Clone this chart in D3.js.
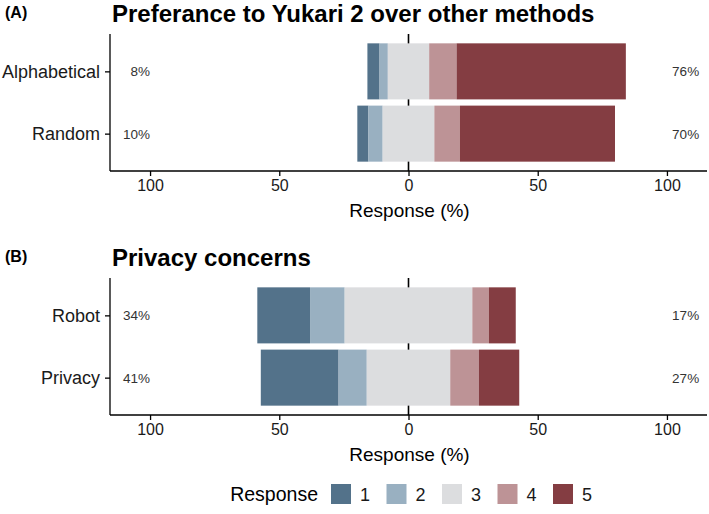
<!DOCTYPE html>
<html>
<head>
<meta charset="utf-8">
<script src="https://cdn.jsdelivr.net/npm/d3@7"></script>
<style>
  body { margin: 0; background: #fff; }
  text { font-family: "Liberation Sans", Arial, Helvetica, sans-serif; }
</style>
</head>
<body>
<div id="chart"></div>
<script>
// response levels and colours
var levels = ["1", "2", "3", "4", "5"];
var levelColors = ["#53728a", "#99b0c1", "#dcdddf", "#bd9396", "#843d42"];

// panel A: preference
var groupsA = ["Alphabetical", "Random"];
var valuesA = [
  [4.7, 3.2, 16.0, 10.6, 65.5],
  [4.3, 5.5, 20.0, 9.9, 60.0]
];

// panel B: privacy
var groupsB = ["Robot", "Privacy"];
var valuesB = [
  [20.4, 13.4, 49.4, 6.4, 10.4],
  [30.1, 10.9, 32.3, 11.1, 15.6]
];

var xTicks = [-100, -50, 0, 50, 100];

var width = 709, height = 514;

var svg = d3.select("#chart")
    .append("svg")
    .attr("width", width)
    .attr("height", height);

var color = d3.scaleOrdinal().domain(levels).range(levelColors);

function drawPanel(tag, title, groups, values, top)
{
    var panel = {left: 110, right: 707, top: top, bottom: top + 137};

    var x = d3.scaleLinear()
        .domain([-115.5, 115.5])
        .range([panel.left, panel.right]);

    // ggplot style discrete scale: 0.6 unit of expansion each side, bar width 0.9
    var y = d3.scalePoint()
        .domain(groups)
        .range([panel.top, panel.bottom])
        .padding(0.6);
    var bh = y.step() * 0.9;

    svg.append("text")
        .attr("x", 5)
        .attr("y", top - 16)
        .style("font-size", "16px")
        .style("font-weight", "bold")
        .text(tag);

    svg.append("text")
        .attr("x", 112)
        .attr("y", top - 12)
        .style("font-size", "24px")
        .style("font-weight", "bold")
        .text(title);

    // zero line under the bars
    svg.append("line")
        .attr("x1", x(0)).attr("x2", x(0))
        .attr("y1", panel.top).attr("y2", panel.bottom)
        .style("stroke", "#000")
        .style("stroke-width", 1.6);

    // build segments: neutral split in halves around 0
    var segs = [];
    values.forEach(function(v, i) {
        var start = -(v[0] + v[1] + v[2] / 2);
        v.forEach(function(val, j) {
            segs.push({group: groups[i], level: levels[j], x0: start, x1: start + val});
            start += val;
        });
    });

    svg.append("g")
        .selectAll("rect")
        .data(segs)
        .enter()
        .append("rect")
        .attr("x", function(d) { return x(d.x0); })
        .attr("width", function(d) { return x(d.x1) - x(d.x0); })
        .attr("y", function(d) { return y(d.group) - bh / 2; })
        .attr("height", bh)
        .style("fill", function(d) { return color(d.level); });

    // percent labels
    svg.append("g")
        .selectAll("text")
        .data(values)
        .enter()
        .append("text")
        .attr("x", x(-100))
        .attr("y", function(d, i) { return y(groups[i]) + 5; })
        .attr("text-anchor", "end")
        .style("font-size", "13.5px")
        .style("fill", "#333")
        .text(function(d) { return Math.round(d[0] + d[1]) + "%"; });

    svg.append("g")
        .selectAll("text")
        .data(values)
        .enter()
        .append("text")
        .attr("x", x(102))
        .attr("y", function(d, i) { return y(groups[i]) + 5; })
        .style("font-size", "13.5px")
        .style("fill", "#333")
        .text(function(d) { return Math.round(d[3] + d[4]) + "%"; });

    // axes
    var xAxis = svg.append("g")
        .attr("transform", "translate(0," + panel.bottom + ")")
        .call(d3.axisBottom(x)
            .tickValues(xTicks)
            .tickSize(5)
            .tickPadding(4)
            .tickFormat(function(d) { return Math.abs(d); }));
    xAxis.select(".domain").attr("d", "M" + panel.left + ",0H" + panel.right)
        .style("stroke", "#000").style("stroke-width", 1.3);
    xAxis.selectAll(".tick line").style("stroke", "#000").style("stroke-width", 1.3);
    xAxis.selectAll(".tick text")
        .style("font-size", "16px")
        .style("fill", "#1a1a1a")
        .style("font-family", "Liberation Sans, Arial, sans-serif");

    var yAxis = svg.append("g")
        .attr("transform", "translate(" + panel.left + ",0)")
        .call(d3.axisLeft(y).tickSize(5).tickPadding(5));
    yAxis.select(".domain").attr("d", "M0," + panel.top + "V" + panel.bottom)
        .style("stroke", "#000").style("stroke-width", 1.3);
    yAxis.selectAll(".tick line").style("stroke", "#000").style("stroke-width", 1.3);
    yAxis.selectAll(".tick text")
        .style("font-size", "18px")
        .style("fill", "#1a1a1a")
        .style("font-family", "Liberation Sans, Arial, sans-serif");

    svg.append("text")
        .attr("x", x(0) + 1)
        .attr("y", panel.bottom + 46)
        .attr("text-anchor", "middle")
        .style("font-size", "19px")
        .text("Response (%)");
}

drawPanel("(A)", "Preferance to Yukari 2 over other methods", groupsA, valuesA, 34);
drawPanel("(B)", "Privacy concerns", groupsB, valuesB, 278);

// legend
var legend = svg.append("g").attr("transform", "translate(0,484)");
legend.append("text")
    .attr("x", 318)
    .attr("y", 17)
    .attr("text-anchor", "end")
    .style("font-size", "19.5px")
    .text("Response");

var keys = legend.selectAll("g.key")
    .data(levels)
    .enter()
    .append("g")
    .attr("class", "key")
    .attr("transform", function(d, i) { return "translate(" + (331 + i * 55.5) + ",0)"; });
keys.append("rect")
    .attr("width", 20)
    .attr("height", 20)
    .style("fill", function(d) { return color(d); });
keys.append("text")
    .attr("x", 34)
    .attr("y", 17)
    .attr("text-anchor", "middle")
    .style("font-size", "18px")
    .style("fill", "#1a1a1a")
    .text(function(d) { return d; });
</script>
</body>
</html>
